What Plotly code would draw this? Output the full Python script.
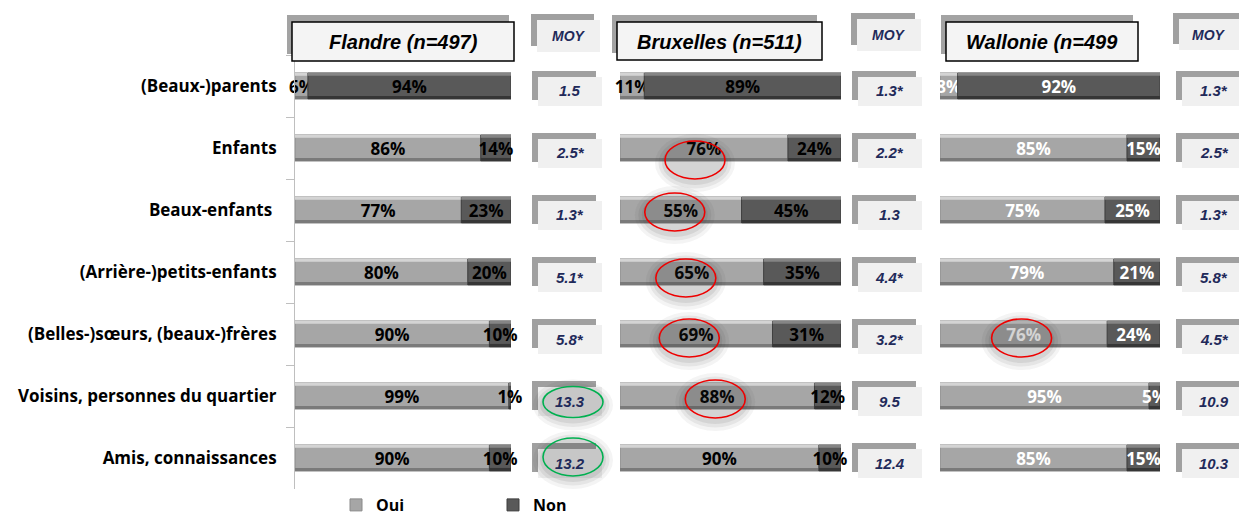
import plotly.graph_objects as go

W, H = 1239, 519

# ---- data -----------------------------------------------------------------
categories = [
    "(Beaux-)parents",
    "Enfants",
    "Beaux-enfants ",
    "(Arrière-)petits-enfants",
    "(Belles-)sœurs, (beaux-)frères",
    "Voisins, personnes du quartier",
    "Amis, connaissances",
]

flandre_oui = [6, 86, 77, 80, 90, 99, 90]
flandre_non = [94, 14, 23, 20, 10, 1, 10]
bruxelles_oui = [11, 76, 55, 65, 69, 88, 90]
bruxelles_non = [89, 24, 45, 35, 31, 12, 10]
wallonie_oui = [8, 85, 75, 79, 76, 95, 85]
wallonie_non = [92, 15, 25, 21, 24, 5, 15]

flandre_moy = ["1.5", "2.5*", "1.3*", "5.1*", "5.8*", "13.3", "13.2"]
bruxelles_moy = ["1.3*", "2.2*", "1.3", "4.4*", "3.2*", "9.5", "12.4"]
wallonie_moy = ["1.3*", "2.5*", "1.3*", "5.8*", "4.5*", "10.9", "10.3"]

panel_titles = ["Flandre (n=497)", "Bruxelles (n=511)", "Wallonie (n=499"]
series_names = ["Oui", "Non"]
moy_title = "MOY"

# ---- styling ----------------------------------------------------------------
OUI = dict(body="#a6a6a6", hi="#d4d4d4", lo="#7a7a7a", edge="#8a8a8a")
NON = dict(body="#595959", hi="#858585", lo="#363636", edge="#3f3f3f")
NAVY = "#1f2a5a"
LABEL_FONT = "Open Sans"
BOX_FONT = "Liberation Sans"
BAR_W = 0.42


def px(x):
    return x / W


def py(y):
    return 1 - y / H


panels = [
    dict(axis="x", oui=flandre_oui, non=flandre_non, moy=flandre_moy,
         title=panel_titles[0], dom=(295, 511), tbox=(292, 22, 514, 61),
         mbox=(537, 20, 600, 52), vcx=570, txt="#000000", clip=False),
    dict(axis="x2", oui=bruxelles_oui, non=bruxelles_non, moy=bruxelles_moy,
         title=panel_titles[1], dom=(620, 841), tbox=(617, 22, 822, 60),
         mbox=(857, 19, 921, 51), vcx=890, txt="#000000", clip=False),
    dict(axis="x3", oui=wallonie_oui, non=wallonie_non, moy=wallonie_moy,
         title=panel_titles[2], dom=(940, 1160), tbox=(946, 22, 1138, 61),
         mbox=(1179, 19, 1245, 50), vcx=1214, txt="#ffffff", clip=True),
]

fig = go.Figure()
shapes = []
annotations = []


def box_text(x, y, text, size, color, yref="paper", yshift=0):
    annotations.append(dict(xref="paper", yref=yref, x=x, y=y, yshift=yshift,
                            xanchor="center", yanchor="middle",
                            text=text, showarrow=False,
                            font=dict(family=BOX_FONT, size=size, color=color,
                                      weight=700, style="italic")))


for p_idx, p in enumerate(panels):
    ax = p["axis"]
    # main stacked segments: Oui from 0, Non starting where Oui ends
    for s_idx, (vals, base, sty) in enumerate([
        (p["oui"], [0] * len(p["oui"]), OUI),
        (p["non"], p["oui"], NON),
    ]):
        fig.add_trace(go.Bar(
            y=categories, x=vals, base=base, orientation="h",
            xaxis=ax, yaxis="y",
            name=series_names[s_idx], legendgroup=series_names[s_idx],
            showlegend=(p_idx == 0),
            width=BAR_W, offset=-BAR_W / 2,
            marker=dict(color=sty["body"], line=dict(color=sty["edge"], width=1)),
            text=[f"{v}%" for v in vals],
            textposition="inside", insidetextanchor="middle",
            constraintext="none", textangle=0,
            textfont=dict(family=LABEL_FONT, size=17, color=p["txt"], weight=700),
            cliponaxis=p["clip"],
            hoverinfo="skip",
        ))
        # bevel: light strip on top, dark strip along the bottom
        for col, off, wd in [(sty["hi"], -BAR_W / 2, 0.045),
                             (sty["lo"], BAR_W / 2 - 0.05, 0.05)]:
            fig.add_trace(go.Bar(
                y=categories, x=vals, base=base, orientation="h",
                xaxis=ax, yaxis="y", showlegend=False,
                width=wd, offset=off,
                marker=dict(color=col, line=dict(width=0)),
                hoverinfo="skip",
            ))

    # panel title box with offset shadow
    x0, y0, x1, y1 = p["tbox"]
    shapes.append(dict(type="rect", xref="paper", yref="paper", layer="above",
                       x0=px(x0 - 5), x1=px(x1 - 5), y0=py(y0 - 7), y1=py(y1 - 7),
                       fillcolor="#a3a3a3", line=dict(width=0)))
    shapes.append(dict(type="rect", xref="paper", yref="paper", layer="above",
                       x0=px(x0), x1=px(x1), y0=py(y0), y1=py(y1),
                       fillcolor="#f4f4f4", line=dict(color="#000000", width=1.5)))
    box_text(px((x0 + x1) / 2), py((y0 + y1) / 2 + 1), p["title"], 20, "#000000")

    # MOY header box
    x0, y0, x1, y1 = p["mbox"]
    shapes.append(dict(type="rect", xref="paper", yref="paper", layer="above",
                       x0=px(x0 - 6), x1=px(x1 - 6), y0=py(y0 - 6), y1=py(y1 - 6),
                       fillcolor="#a0a0a0", line=dict(width=0)))
    shapes.append(dict(type="rect", xref="paper", yref="paper", layer="above",
                       x0=px(x0), x1=px(x1), y0=py(y0), y1=py(y1),
                       fillcolor="#f0f0f0", line=dict(width=0)))
    box_text(px((x0 + min(x1, W)) / 2), py((y0 + y1) / 2), moy_title, 14, NAVY)

    # per-row mean value boxes
    for i, val in enumerate(p["moy"]):
        shapes.append(dict(type="rect", xref="paper", yref="y", layer="above",
                           xsizemode="pixel", ysizemode="pixel",
                           xanchor=px(p["vcx"]), yanchor=i,
                           x0=-38, x1=26, y0=-14, y1=15,
                           fillcolor="#a0a0a0", line=dict(width=0)))
        shapes.append(dict(type="rect", xref="paper", yref="y", layer="above",
                           xsizemode="pixel", ysizemode="pixel",
                           xanchor=px(p["vcx"]), yanchor=i,
                           x0=-32, x1=32, y0=-20, y1=9,
                           fillcolor="#f0f0f0", line=dict(width=0)))
        box_text(px(p["vcx"]), i, val, 15, NAVY, yref="y", yshift=-5)


def ellipse(xref, xanchor, yanchor, w, h, dx, dy, color):
    # soft dark halo under the outline
    for grow, alpha in [(20, 0.05), (13, 0.07), (6, 0.09)]:
        shapes.append(dict(type="circle", xref=xref, yref="y", layer="above",
                           xsizemode="pixel", ysizemode="pixel",
                           xanchor=xanchor, yanchor=yanchor,
                           x0=dx - (w + grow) / 2, x1=dx + (w + grow) / 2,
                           y0=dy - 3 - (h + grow) / 2, y1=dy - 3 + (h + grow) / 2,
                           fillcolor=f"rgba(40,40,40,{alpha})", line=dict(width=0)))
    shapes.append(dict(type="circle", xref=xref, yref="y", layer="above",
                       xsizemode="pixel", ysizemode="pixel",
                       xanchor=xanchor, yanchor=yanchor,
                       x0=dx - w / 2, x1=dx + w / 2, y0=dy - h / 2, y1=dy + h / 2,
                       fillcolor="rgba(0,0,0,0)", line=dict(color=color, width=1.6)))


# red rings around selected "Oui" shares: (panel, row, dx, dy)
red_rings = [(1, 1, -9, -12), (1, 2, -6, -2), (1, 3, -6, -6),
             (1, 4, -7, -4), (1, 5, -2, -3), (2, 4, -2, -4)]
for p_idx, row, dx, dy in red_rings:
    p = panels[p_idx]
    ellipse(p["axis"], p["oui"][row] / 2, row, 60, 38, dx, dy, "#ee0000")

# green rings around selected mean values: (panel, row, dy, height)
green_rings = [(0, 5, -6, 31), (0, 6, 1, 38)]
for p_idx, row, dy, h in green_rings:
    p = panels[p_idx]
    ellipse("paper", px(p["vcx"] + 3), row, 60, h, 0, dy, "#00b050")

layout = dict(
    width=W, height=H, autosize=False,
    margin=dict(l=0, r=0, t=0, b=0, pad=0, autoexpand=False),
    paper_bgcolor="white", plot_bgcolor="white",
    barmode="overlay",
    shapes=shapes, annotations=annotations,
    yaxis=dict(type="category", categoryorder="array", categoryarray=categories,
               range=[6.5, -0.5], domain=[py(489), py(55)], anchor="x",
               showline=True, linecolor="#bfbfbf", linewidth=1,
               ticks="outside", tickson="boundaries", ticklen=8, tickcolor="#bfbfbf",
               ticklabelstandoff=14, showgrid=False, zeroline=False,
               tickfont=dict(family=LABEL_FONT, size=17, color="#000000", weight=700)),
    legend=dict(orientation="h", x=px(336), xanchor="left", y=py(505), yanchor="middle",
                entrywidth=112, entrywidthmode="pixels", bgcolor="rgba(0,0,0,0)",
                font=dict(family=LABEL_FONT, size=16, color="#000000", weight=700),
                itemclick=False, itemdoubleclick=False),
    showlegend=True,
)
for p in panels:
    key = "xaxis" if p["axis"] == "x" else "xaxis" + p["axis"][1:]
    layout[key] = dict(domain=[px(p["dom"][0]), px(p["dom"][1])], range=[0, 100],
                       visible=False, anchor="y", fixedrange=True)

fig.update_layout(**layout)
fig.write_html("out.html")
